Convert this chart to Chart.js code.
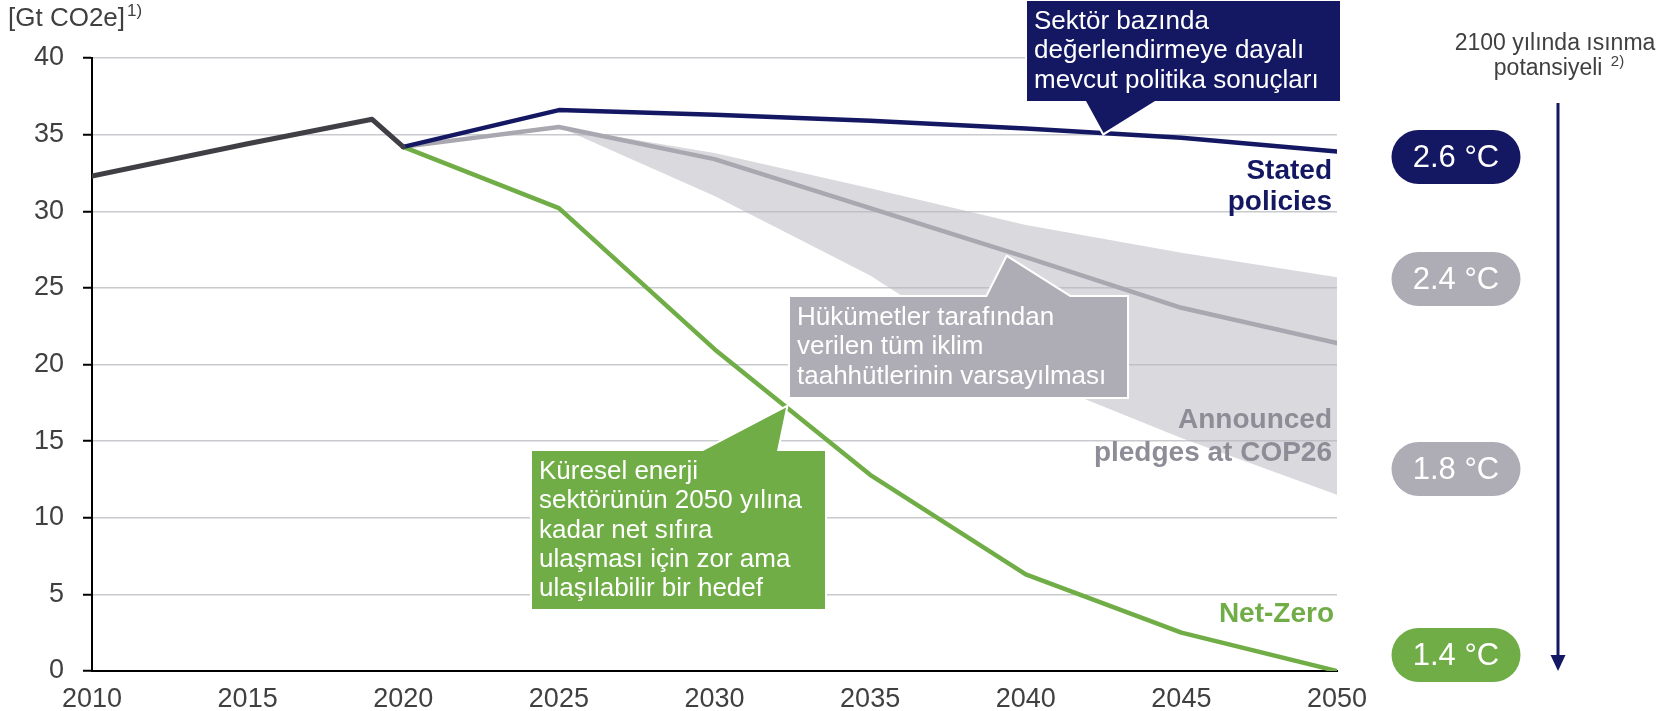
<!DOCTYPE html>
<html>
<head>
<meta charset="utf-8">
<script src="https://cdn.jsdelivr.net/npm/chart.js@4.4.0/dist/chart.umd.min.js"></script>
<style>
    html, body { margin: 0; padding: 0; background: #fff; }
    #wrap { position: relative; width: 1670px; height: 711px; }
</style>
</head>
<body>
<div id="wrap"><canvas id="emissionsChart" width="1670" height="711"></canvas></div>
<script>
// Emission pathways, Gt CO2e
const historyYears = [2010, 2015, 2019, 2020];
const historyValues = [32.3, 34.4, 36.0, 34.2];

const scenarioYears = [2020, 2025, 2030, 2035, 2040, 2045, 2050];
const statedValues = [34.2, 36.6, 36.3, 35.9, 35.4, 34.8, 33.9];
const pledgesValues = [34.2, 35.5, 33.4, 30.2, 27.0, 23.7, 21.4];
const pledgesUpper = [34.2, 35.5, 33.8, 31.5, 29.1, 27.3, 25.7];
const pledgesLower = [34.2, 35.5, 31.0, 25.8, 19.3, 15.2, 11.5];
const netZeroValues = [34.2, 30.2, 21.0, 12.8, 6.3, 2.5, 0];

const yMin = 0, yMax = 40, yStep = 5;
const xMin = 2010, xMax = 2050, xStep = 5;

// warming pills (2100)
const warmingLabels = ['2.6 °C', '2.4 °C', '1.8 °C', '1.4 °C'];

const NAVY = '#141863';
const GREEN = '#70AD47';
const GREY = '#AEADB5';
const GREY_LINE = '#A9A8B1';
const GREY_TEXT = '#8E8D97';
const DARK = '#3F3F45';
const FONT = '"Liberation Sans", Arial, sans-serif';

function toPoints(xs, ys) {
    return xs.map((x, i) => ({ x: x, y: ys[i] }));
}

// callout boxes; tip given in data units, box in page pixels
const callouts = [
    {
        lines: ['Sektör bazında', 'değerlendirmeye dayalı', 'mevcut politika sonuçları'],
        box: [1027, 1, 313, 100], base: [1086, 1155], side: 'bottom',
        tip: [2042.5, 35.1], fill: NAVY
    },
    {
        lines: ['Hükümetler tarafından', 'verilen tüm iklim', 'taahhütlerinin varsayılması'],
        box: [790, 297, 337, 100], base: [987, 1070], side: 'top',
        tip: [2039.4, 27.0], fill: GREY
    },
    {
        lines: ['Küresel enerji', 'sektörünün 2050 yılına', 'kadar net sıfıra', 'ulaşması için zor ama', 'ulaşılabilir bir hedef'],
        box: [532, 451, 293, 158], base: [703, 777], side: 'top',
        tip: [2032.3, 17.2], fill: GREEN
    }
];

function drawCallout(ctx, c, tipX, tipY) {
    const [bx, by, bw, bh] = c.box;
    const [b0, b1] = c.base;
    ctx.save();
    ctx.beginPath();
    if (c.side === 'top') {
        ctx.moveTo(bx, by);
        ctx.lineTo(b0, by);
        ctx.lineTo(tipX, tipY);
        ctx.lineTo(b1, by);
        ctx.lineTo(bx + bw, by);
        ctx.lineTo(bx + bw, by + bh);
        ctx.lineTo(bx, by + bh);
    } else {
        ctx.moveTo(bx, by);
        ctx.lineTo(bx + bw, by);
        ctx.lineTo(bx + bw, by + bh);
        ctx.lineTo(b1, by + bh);
        ctx.lineTo(tipX, tipY);
        ctx.lineTo(b0, by + bh);
        ctx.lineTo(bx, by + bh);
    }
    ctx.closePath();
    ctx.strokeStyle = '#fff';
    ctx.lineWidth = 4;
    ctx.stroke();
    ctx.fillStyle = c.fill;
    ctx.fill();

    ctx.fillStyle = '#fff';
    ctx.font = '26px ' + FONT;
    ctx.textAlign = 'left';
    ctx.textBaseline = 'middle';
    c.lines.forEach((line, i) => {
        ctx.fillText(line, bx + 7, by + 21 + i * 29.3);
    });
    ctx.restore();
}

function drawPill(ctx, text, cx, cy, fill) {
    const w = 129, h = 54, r = 27;
    const x = cx - w / 2, y = cy - h / 2;
    ctx.save();
    ctx.beginPath();
    ctx.moveTo(x + r, y);
    ctx.lineTo(x + w - r, y);
    ctx.arc(x + w - r, cy, r, -Math.PI / 2, Math.PI / 2);
    ctx.lineTo(x + r, y + h);
    ctx.arc(x + r, cy, r, Math.PI / 2, Math.PI * 1.5);
    ctx.closePath();
    ctx.fillStyle = fill;
    ctx.fill();
    ctx.fillStyle = '#fff';
    ctx.font = '31px ' + FONT;
    ctx.textAlign = 'center';
    ctx.textBaseline = 'middle';
    ctx.fillText(text, cx, cy + 1);
    ctx.restore();
}

function drawLabelLines(ctx, lines, right, ys, color) {
    ctx.save();
    ctx.fillStyle = color;
    ctx.font = 'bold 28px ' + FONT;
    ctx.textAlign = 'right';
    ctx.textBaseline = 'middle';
    lines.forEach((line, i) => ctx.fillText(line, right, ys[i]));
    ctx.restore();
}

function drawWithSup(ctx, text, sup, x, y, size, align) {
    ctx.save();
    ctx.fillStyle = '#404040';
    ctx.textBaseline = 'middle';
    ctx.textAlign = 'left';
    ctx.font = size + 'px ' + FONT;
    const w1 = ctx.measureText(text).width;
    ctx.font = Math.round(size * 0.66) + 'px ' + FONT;
    const w2 = ctx.measureText(sup).width;
    const startX = align === 'center' ? x - (w1 + w2) / 2 : x;
    ctx.font = size + 'px ' + FONT;
    ctx.fillText(text, startX, y);
    ctx.font = Math.round(size * 0.66) + 'px ' + FONT;
    ctx.fillText(sup, startX + w1 + 2, y - size * 0.3);
    ctx.restore();
}

const decorationsPlugin = {
    id: 'decorations',
    afterDraw(chart) {
        const ctx = chart.ctx;
        const xs = chart.scales.x;
        const ys = chart.scales.y;

        // unit label
        drawWithSup(ctx, '[Gt CO2e]', '1)', 8, 19, 26, 'left');

        // series labels
        drawLabelLines(ctx, ['Stated', 'policies'], 1332, [171, 202], NAVY);
        drawLabelLines(ctx, ['Announced', 'pledges at COP26'], 1332, [420, 453], GREY_TEXT);
        drawLabelLines(ctx, ['Net-Zero'], 1334, [614], GREEN);

        // callouts
        callouts.forEach(c => {
            drawCallout(ctx, c, xs.getPixelForValue(c.tip[0]), ys.getPixelForValue(c.tip[1]));
        });

        // warming potential column
        ctx.save();
        ctx.fillStyle = '#404040';
        ctx.font = '23px ' + FONT;
        ctx.textAlign = 'center';
        ctx.textBaseline = 'middle';
        ctx.fillText('2100 yılında ısınma', 1555, 44);
        ctx.restore();
        drawWithSup(ctx, 'potansiyeli ', '2)', 1558, 69, 23, 'center');

        const arrowX = 1558;
        const arrowBottom = ys.getPixelForValue(yMin);
        ctx.save();
        ctx.strokeStyle = NAVY;
        ctx.lineWidth = 3;
        ctx.beginPath();
        ctx.moveTo(arrowX, 103);
        ctx.lineTo(arrowX, arrowBottom - 12);
        ctx.stroke();
        ctx.fillStyle = NAVY;
        ctx.beginPath();
        ctx.moveTo(arrowX - 7.5, arrowBottom - 16);
        ctx.lineTo(arrowX + 7.5, arrowBottom - 16);
        ctx.lineTo(arrowX, arrowBottom);
        ctx.closePath();
        ctx.fill();
        ctx.restore();

        const pillX = 1456;
        drawPill(ctx, warmingLabels[0], pillX, 157, NAVY);
        drawPill(ctx, warmingLabels[1], pillX, 279, GREY);
        drawPill(ctx, warmingLabels[2], pillX, 469, GREY);
        drawPill(ctx, warmingLabels[3], pillX, 655, GREEN);
    }
};

const lineStyle = {
    pointRadius: 0,
    borderWidth: 4.5,
    borderCapStyle: 'round',
    borderJoinStyle: 'round',
    tension: 0,
    fill: false
};

const chartCanvas = document.getElementById('emissionsChart');

const emissionsChart = new Chart(chartCanvas, {
    type: 'line',
    data: {
        datasets: [
            Object.assign({}, lineStyle, {
                label: 'Historical',
                data: toPoints(historyYears, historyValues),
                borderColor: DARK,
                borderWidth: 5,
                order: 1
            }),
            Object.assign({}, lineStyle, {
                label: 'Stated policies',
                data: toPoints(scenarioYears, statedValues),
                borderColor: NAVY,
                order: 2
            }),
            Object.assign({}, lineStyle, {
                label: 'Net-Zero',
                data: toPoints(scenarioYears, netZeroValues),
                borderColor: GREEN,
                order: 3
            }),
            Object.assign({}, lineStyle, {
                label: 'Announced pledges',
                data: toPoints(scenarioYears, pledgesValues),
                borderColor: GREY_LINE,
                order: 4
            }),
            {
                label: 'Pledges range upper',
                data: toPoints(scenarioYears, pledgesUpper),
                borderWidth: 0,
                pointRadius: 0,
                borderColor: 'rgba(0,0,0,0)',
                backgroundColor: 'rgba(185,185,195,0.55)',
                fill: '+1',
                order: 5
            },
            {
                label: 'Pledges range lower',
                data: toPoints(scenarioYears, pledgesLower),
                borderWidth: 0,
                pointRadius: 0,
                borderColor: 'rgba(0,0,0,0)',
                fill: false,
                order: 6
            }
        ]
    },
    options: {
        responsive: false,
        animation: false,
        devicePixelRatio: 1,
        layout: { padding: { top: 58, right: 333, left: 0, bottom: 0 } },
        plugins: {
            legend: { display: false },
            tooltip: { enabled: false }
        },
        scales: {
            x: {
                type: 'linear',
                min: xMin,
                max: xMax,
                afterFit: function(scale) { scale.height = 40; },
                grid: { display: false },
                border: { display: true, color: '#000', width: 2 },
                ticks: {
                    stepSize: xStep,
                    padding: 4,
                    color: '#404040',
                    font: { family: FONT, size: 27 },
                    maxRotation: 0,
                    callback: v => String(v)
                }
            },
            y: {
                min: yMin,
                max: yMax,
                afterFit: function(scale) { scale.width = 92; },
                grid: {
                    color: '#C8CACD',
                    lineWidth: 1.5,
                    drawTicks: true,
                    tickLength: 9,
                    tickColor: '#000',
                    tickWidth: 2
                },
                border: { display: true, color: '#000', width: 2 },
                ticks: {
                    stepSize: yStep,
                    padding: 19,
                    color: '#404040',
                    font: { family: FONT, size: 27 }
                }
            }
        }
    },
    plugins: [decorationsPlugin]
});
</script>
</body>
</html>
